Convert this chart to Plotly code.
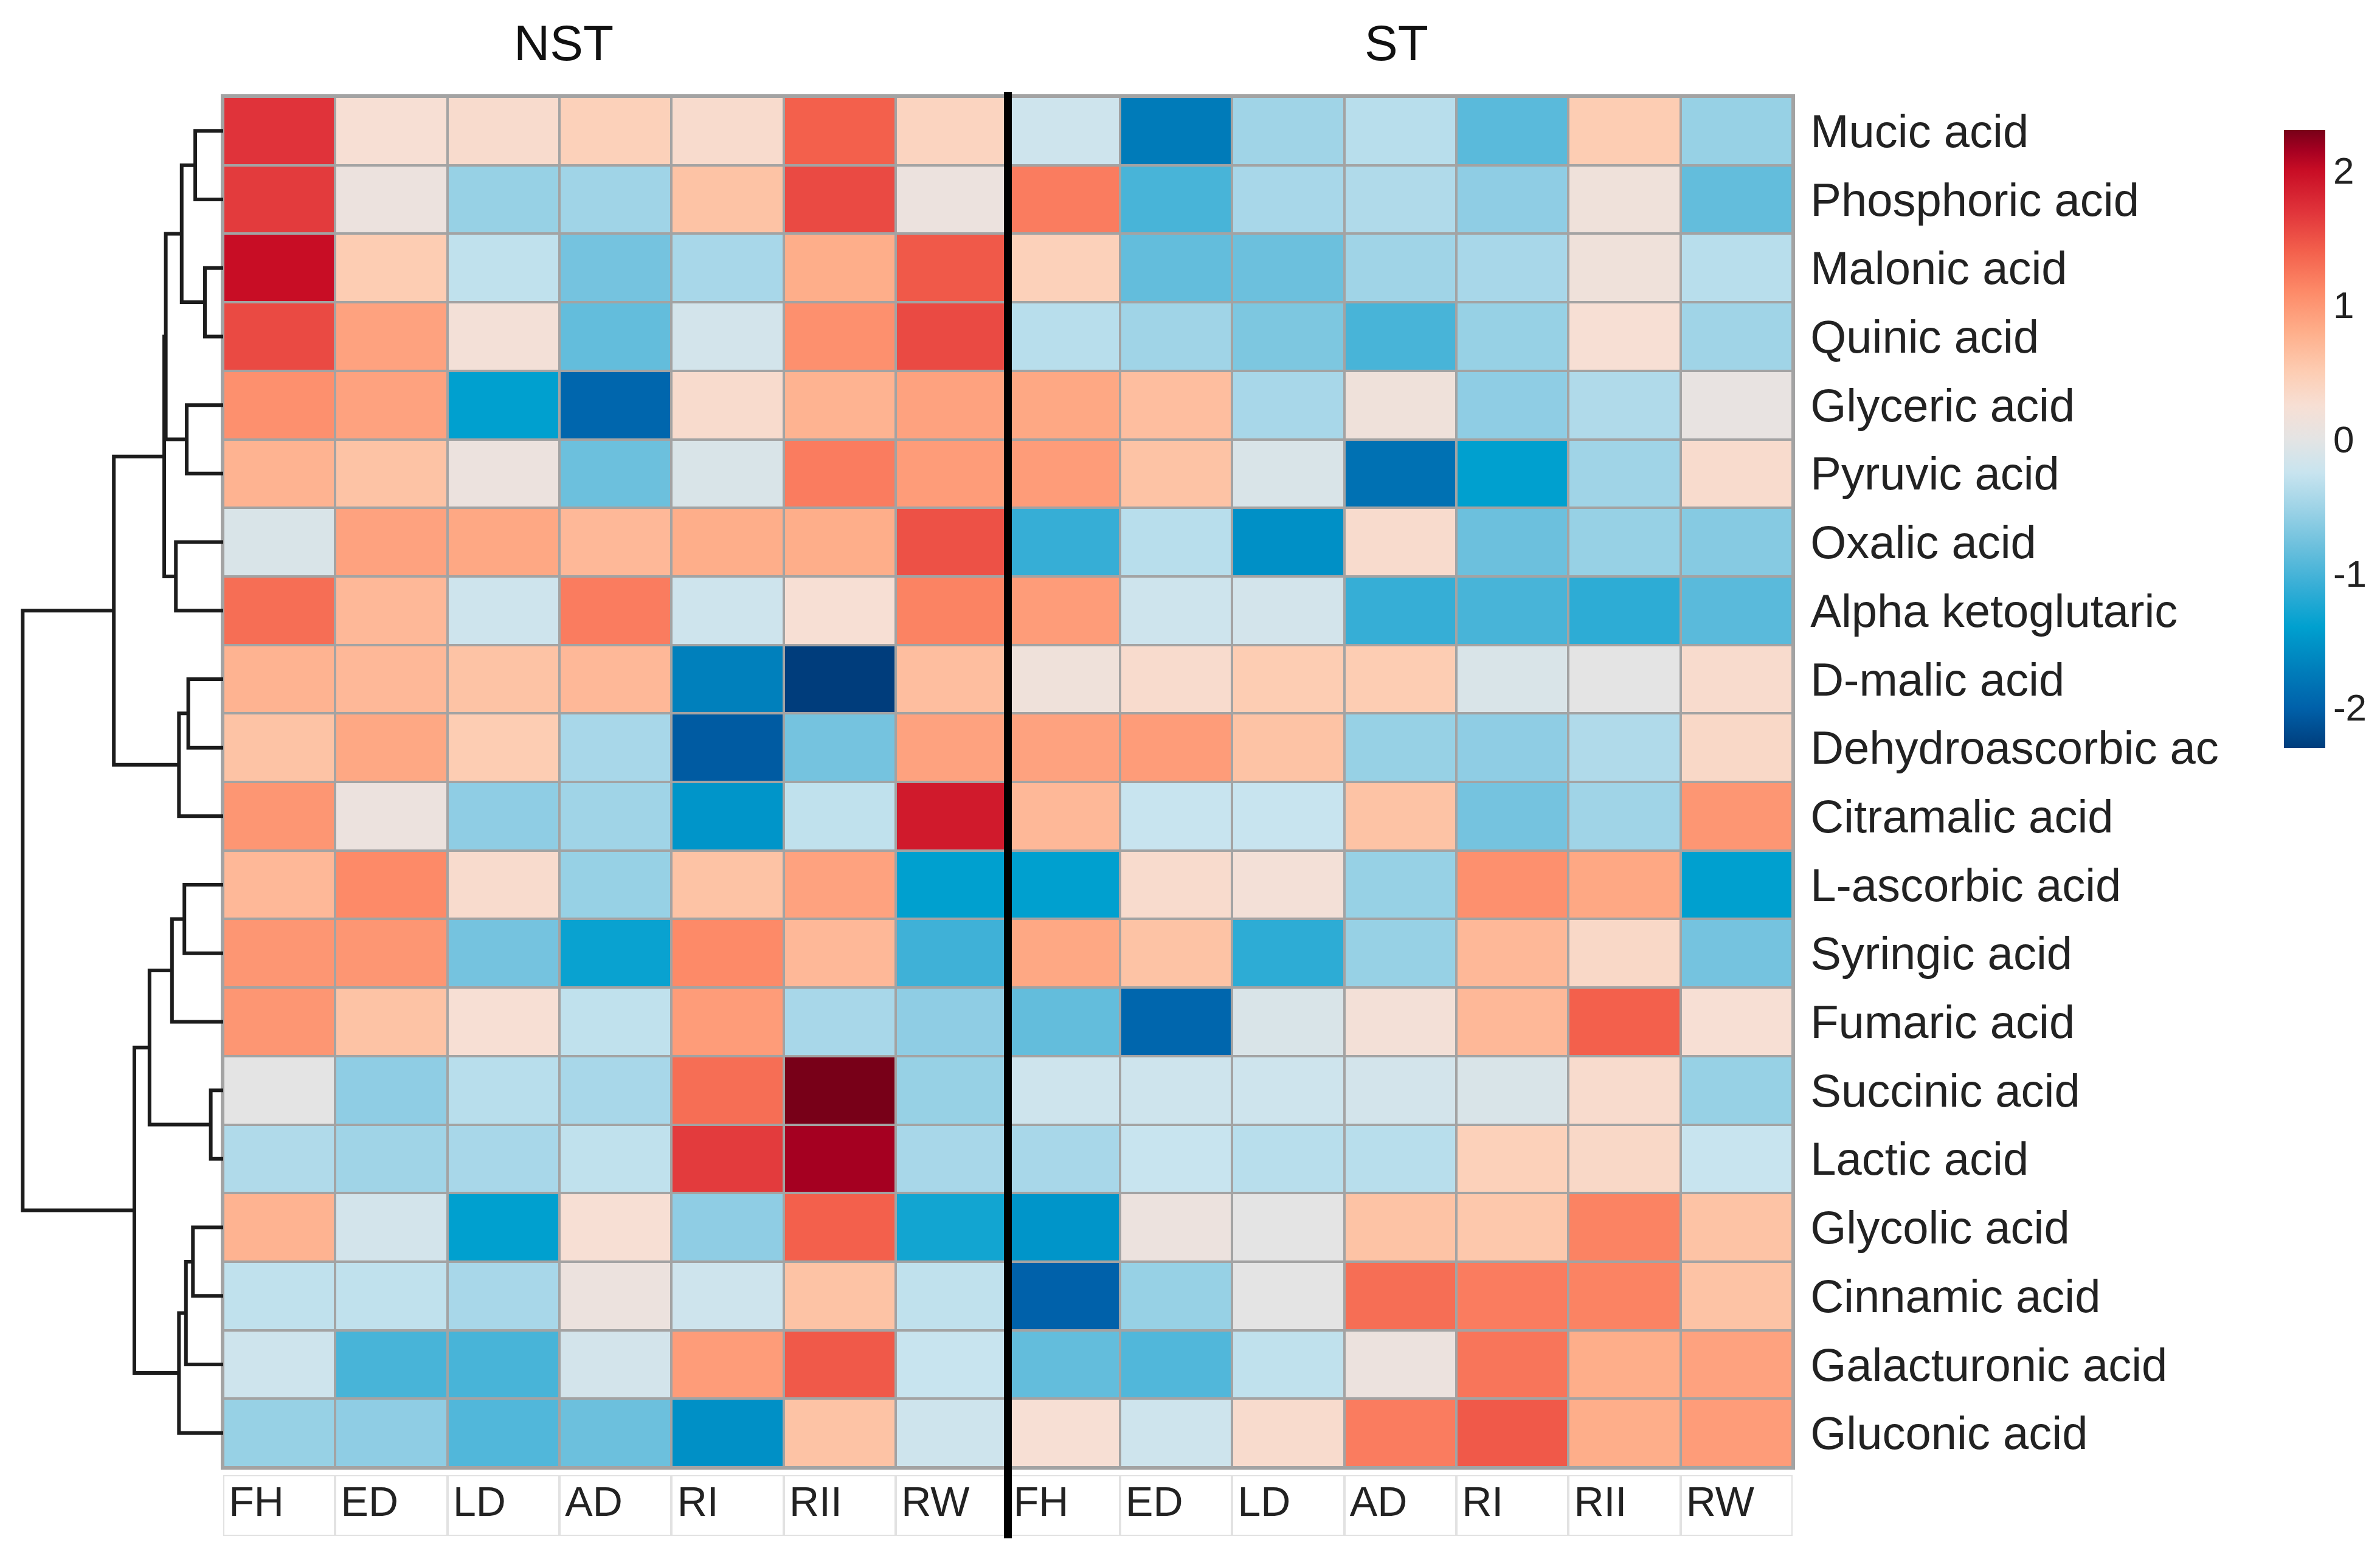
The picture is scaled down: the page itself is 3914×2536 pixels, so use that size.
import plotly.graph_objects as go

# ---------------- data ----------------
metabolites = ["Mucic acid", "Phosphoric acid", "Malonic acid", "Quinic acid",
               "Glyceric acid", "Pyruvic acid", "Oxalic acid", "Alpha ketoglutaric",
               "D-malic acid", "Dehydroascorbic ac", "Citramalic acid", "L-ascorbic acid",
               "Syringic acid", "Fumaric acid", "Succinic acid", "Lactic acid",
               "Glycolic acid", "Cinnamic acid", "Galacturonic acid", "Gluconic acid"]
stages = ["FH", "ED", "LD", "AD", "RI", "RII", "RW"]
groups = ["NST", "ST"]

nst_values = [
    [1.70, 0.25, 0.30, 0.45, 0.30, 1.40, 0.40],
    [1.65, 0.10, -0.55, -0.50, 0.60, 1.55, 0.10],
    [2.00, 0.50, -0.30, -0.75, -0.45, 0.80, 1.45],
    [1.55, 0.90, 0.20, -0.85, -0.15, 1.05, 1.55],
    [1.05, 0.90, -1.40, -1.95, 0.30, 0.75, 0.90],
    [0.75, 0.60, 0.10, -0.80, -0.10, 1.20, 0.95],
    [-0.10, 0.90, 0.85, 0.70, 0.80, 0.80, 1.50],
    [1.30, 0.70, -0.20, 1.20, -0.20, 0.25, 1.15],
    [0.75, 0.70, 0.60, 0.70, -1.70, -2.30, 0.65],
    [0.60, 0.85, 0.50, -0.45, -2.05, -0.75, 0.90],
    [1.00, 0.10, -0.60, -0.50, -1.50, -0.30, 1.90],
    [0.70, 1.10, 0.30, -0.55, 0.60, 0.90, -1.40],
    [1.00, 1.00, -0.75, -1.35, 1.10, 0.70, -1.05],
    [1.00, 0.60, 0.25, -0.30, 0.95, -0.45, -0.60],
    [0.00, -0.60, -0.35, -0.45, 1.30, 2.30, -0.55],
    [-0.40, -0.50, -0.45, -0.30, 1.65, 2.15, -0.45],
    [0.75, -0.15, -1.40, 0.25, -0.60, 1.40, -1.30],
    [-0.30, -0.30, -0.45, 0.10, -0.20, 0.60, -0.30],
    [-0.20, -1.00, -1.00, -0.15, 0.95, 1.45, -0.25],
    [-0.55, -0.60, -0.95, -0.80, -1.55, 0.60, -0.20],
]
st_values = [
    [-0.20, -1.75, -0.50, -0.35, -0.90, 0.50, -0.55],
    [1.20, -1.00, -0.45, -0.40, -0.60, 0.15, -0.85],
    [0.45, -0.85, -0.80, -0.50, -0.45, 0.15, -0.35],
    [-0.35, -0.50, -0.70, -1.00, -0.55, 0.25, -0.50],
    [0.85, 0.65, -0.45, 0.15, -0.60, -0.40, 0.05],
    [0.95, 0.60, -0.10, -1.85, -1.40, -0.50, 0.30],
    [-1.10, -0.35, -1.55, 0.30, -0.80, -0.55, -0.65],
    [0.95, -0.20, -0.15, -1.10, -1.00, -1.15, -0.90],
    [0.15, 0.30, 0.50, 0.50, -0.10, 0.00, 0.30],
    [0.90, 0.95, 0.60, -0.55, -0.60, -0.40, 0.35],
    [0.70, -0.25, -0.25, 0.60, -0.75, -0.50, 1.00],
    [-1.40, 0.30, 0.20, -0.55, 1.05, 0.85, -1.40],
    [0.85, 0.60, -1.15, -0.55, 0.70, 0.35, -0.75],
    [-0.85, -1.95, -0.10, 0.20, 0.70, 1.40, 0.25],
    [-0.20, -0.20, -0.20, -0.15, -0.10, 0.30, -0.55],
    [-0.45, -0.25, -0.35, -0.35, 0.45, 0.35, -0.25],
    [-1.50, 0.10, 0.00, 0.60, 0.55, 1.15, 0.60],
    [-2.00, -0.55, 0.00, 1.30, 1.20, 1.15, 0.60],
    [-0.85, -0.95, -0.30, 0.10, 1.25, 0.80, 0.90],
    [0.25, -0.20, 0.30, 1.20, 1.45, 0.80, 0.95],
]
colorbar_ticks = [-2, -1, 0, 1, 2]
colorbar_ticktext = ["-2", "-1", "0", "1", "2"]

# row dendrogram (scipy-like: leaves 0..19, merge k -> id 20+k)
merge_left = [0, 2, 20, 4, 22, 6, 24, 8, 27, 26, 11, 30, 14, 31, 16, 34, 35, 33, 29]
merge_right = [1, 3, 21, 5, 23, 7, 25, 9, 10, 28, 12, 13, 15, 32, 17, 18, 19, 36, 37]
merge_height = [72, 47, 107, 94, 148, 122, 152, 90, 114, 282, 100, 132, 32, 190, 78, 96, 114, 229, 517]

# ---------------- figure ----------------
W, H = 3914, 2536
FONT = "Liberation Sans"

z = [a + b for a, b in zip(nst_values, st_values)]
n_rows = len(metabolites)
n_cols = len(z[0])
col_labels = stages * len(groups)

zmin, zmax = -2.3, 2.3
scale_pts = [(-2.3, "#003D7C"), (-2.0, "#0061AA"), (-1.7, "#0080BC"), (-1.4, "#00A0CF"),
             (-1.1, "#36AED6"), (-0.8, "#6CC0DD"), (-0.5, "#A0D4E7"), (-0.25, "#C8E4EF"),
             (0.0, "#E4E4E4"), (0.25, "#F7DFD4"), (0.5, "#FDCDB3"), (0.8, "#FEAE8A"),
             (1.1, "#FD8A68"), (1.4, "#F3604C"), (1.7, "#E0333A"), (2.0, "#C80D25"),
             (2.15, "#A50021"), (2.3, "#780018")]
colorscale = [[(v - zmin) / (zmax - zmin), c] for v, c in scale_pts]

hm_x0, hm_x1 = 359 / W, 2940 / W
hm_y0, hm_y1 = 1 - 2405 / H, 1 - 151 / H

fig = go.Figure()

fig.add_trace(go.Heatmap(
    z=z, x=list(range(n_cols)), y=list(range(n_rows)),
    colorscale=colorscale, zmin=zmin, zmax=zmax,
    xgap=4, ygap=4, xaxis="x", yaxis="y",
    colorbar=dict(x=3748 / W, xanchor="left", xpad=0, ypad=0,
                  y=1 - 714 / H, yanchor="middle", len=1016 / H, lenmode="fraction",
                  thickness=68, outlinewidth=0, tickvals=colorbar_ticks,
                  ticktext=colorbar_ticktext,
                  ticks="", tickfont=dict(size=62, family=FONT, color="#222")),
))

# column label strip
fig.add_trace(go.Bar(
    x=list(range(n_cols)), y=[1] * n_cols, xaxis="x2", yaxis="y2",
    marker=dict(color="white", line=dict(color="#E2E2E2", width=4)),
    showlegend=False, hoverinfo="skip",
))
fig.add_trace(go.Scatter(
    x=[i - 0.45 for i in range(n_cols)], y=[0.5] * n_cols, xaxis="x2", yaxis="y2",
    mode="text", text=col_labels, textposition="middle right",
    textfont=dict(size=68, family=FONT, color="#222"), showlegend=False,
))

# dendrogram from merge data
pos = {i: float(i) for i in range(n_rows)}
hgt = {i: 0.0 for i in range(n_rows)}
dx, dy = [], []
for k, (a, b, h) in enumerate(zip(merge_left, merge_right, merge_height)):
    dx += [hgt[a], h, h, hgt[b], None]
    dy += [pos[a], pos[a], pos[b], pos[b], None]
    nid = n_rows + k
    pos[nid] = (pos[a] + pos[b]) / 2
    hgt[nid] = h
fig.add_trace(go.Scatter(
    x=dx, y=dy, xaxis="x3", yaxis="y3", mode="lines",
    line=dict(color="#1c1c1c", width=6), showlegend=False, hoverinfo="skip",
))

# group titles
title_x = [919 / W, 2288 / W]
for g, tx in zip(groups, title_x):
    fig.add_annotation(text=g, x=tx, y=1 - 63 / H, xref="paper", yref="paper",
                       xanchor="center", yanchor="middle",
                       showarrow=False, font=dict(size=82, family=FONT, color="#111"))

# grey cell borders behind heatmap
fig.add_shape(type="rect", xref="x domain", yref="y domain", x0=0, x1=1, y0=0, y1=1,
              fillcolor="#A3A3A3", line=dict(width=0), layer="below")
# thick separator between groups
fig.add_shape(type="line", xref="x", yref="paper", x0=len(stages) - 0.5, x1=len(stages) - 0.5,
              y0=1 - 2522 / H, y1=1 - 143 / H, line=dict(color="black", width=13))

fig.update_layout(
    width=W, height=H, margin=dict(l=0, r=0, t=0, b=0),
    paper_bgcolor="white", plot_bgcolor="white", bargap=0,
    font=dict(family=FONT, color="#222"),
    xaxis=dict(domain=[hm_x0, hm_x1], range=[-0.5, n_cols - 0.5], showticklabels=False,
               ticks="", showgrid=False, zeroline=False, showline=True, mirror=True,
               linecolor="#A3A3A3", linewidth=4),
    yaxis=dict(domain=[hm_y0, hm_y1], range=[n_rows - 0.5, -0.5], side="right",
               tickvals=list(range(n_rows)), ticktext=metabolites, ticks="",
               ticklabelstandoff=10, tickfont=dict(size=76, family=FONT, color="#222"),
               showgrid=False, zeroline=False, showline=True, mirror=True,
               linecolor="#A3A3A3", linewidth=4),
    xaxis2=dict(domain=[hm_x0, hm_x1], range=[-0.5, n_cols - 0.5], anchor="y2",
                showticklabels=False, ticks="", showgrid=False, zeroline=False),
    yaxis2=dict(domain=[1 - 2518 / H, 1 - 2418 / H], range=[0, 1], anchor="x2",
                showticklabels=False, ticks="", showgrid=False, zeroline=False),
    xaxis3=dict(domain=[0, hm_x0], range=[563, 0], anchor="y3", showticklabels=False,
                ticks="", showgrid=False, zeroline=False),
    yaxis3=dict(domain=[hm_y0, hm_y1], range=[n_rows - 0.5, -0.5], anchor="x3",
                showticklabels=False, ticks="", showgrid=False, zeroline=False),
)

fig.write_html("out.html")
